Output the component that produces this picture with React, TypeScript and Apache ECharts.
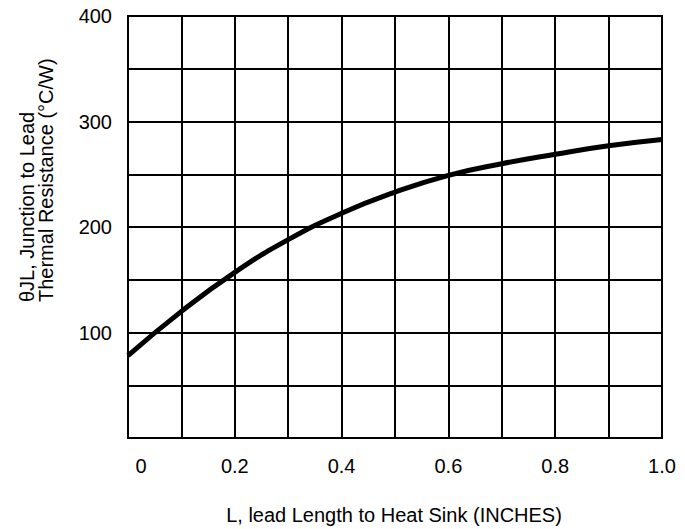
import React, { useEffect, useRef } from "react";
import * as echarts from "echarts";

const leadLength = [0, 0.1, 0.2, 0.3, 0.4, 0.5, 0.6, 0.7, 0.8, 0.9, 1.0];
const resistance = [78, 120, 157, 188, 213, 233, 249, 260, 269, 277, 283];
const xTitle = "L, lead Length to Heat Sink (INCHES)";
const yTitleLines = ["θJL, Junction to Lead", "Thermal Resistance (°C/W)"];

const FONT = "'Liberation Sans', Arial, sans-serif";
const FS = 20;

export default function App() {
  const ref = useRef<HTMLDivElement>(null);
  useEffect(() => {
    if (!ref.current) return;
    const chart = echarts.init(ref.current, undefined, { renderer: "svg" });
    chart.setOption({
      animation: false,
      backgroundColor: "#fff",
      grid: {
        left: 128,
        top: 16,
        right: 23,
        bottom: 91,
        show: true,
        borderColor: "#000",
        borderWidth: 2,
      },
      xAxis: {
        type: "value",
        min: 0,
        max: 1,
        interval: 0.1,
        axisLine: { show: true, lineStyle: { color: "#000", width: 2 } },
        axisTick: { show: false },
        splitLine: { show: true, lineStyle: { color: "#000", width: 2 } },
        axisLabel: {
          color: "#000",
          fontFamily: FONT,
          fontSize: FS,
          margin: 18,
          formatter: (v: number) => {
            const k = Math.round(v * 10);
            if (k % 2 !== 0) return "";
            if (k === 0) return "{z|0}";
            if (k === 10) return "1.0";
            return (k / 10).toFixed(1);
          },
          rich: {
            z: { padding: [0, 0, 0, 26], fontSize: FS, fontFamily: FONT, color: "#000" },
          },
        },
      },
      yAxis: {
        type: "value",
        min: 0,
        max: 400,
        interval: 50,
        axisLine: { show: true, lineStyle: { color: "#000", width: 2 } },
        axisTick: { show: false },
        splitLine: { show: true, lineStyle: { color: "#000", width: 2 } },
        axisLabel: {
          color: "#000",
          fontFamily: FONT,
          fontSize: FS,
          margin: 16,
          formatter: (v: number) => (v > 0 && v % 100 === 0 ? String(v) : ""),
        },
      },
      graphic: [
        {
          type: "text",
          x: 394,
          y: 515,
          style: {
            text: xTitle,
            fill: "#000",
            font: `${FS}px ${FONT}`,
            textAlign: "center",
            textVerticalAlign: "middle",
          },
        },
        {
          type: "text",
          x: 27,
          y: 302,
          rotation: Math.PI / 2,
          style: {
            text: yTitleLines[0],
            fill: "#000",
            font: `${FS}px ${FONT}`,
            textAlign: "left",
            textVerticalAlign: "middle",
          },
        },
        {
          type: "text",
          x: 46,
          y: 302,
          rotation: Math.PI / 2,
          style: {
            text: yTitleLines[1],
            fill: "#000",
            font: `${FS}px ${FONT}`,
            textAlign: "left",
            textVerticalAlign: "middle",
          },
        },
      ],
      series: [
        {
          type: "line",
          data: leadLength.map((x, i) => [x, resistance[i]]),
          smooth: 0.5,
          showSymbol: false,
          lineStyle: { color: "#000", width: 5 },
        },
      ],
    });
    return () => chart.dispose();
  }, []);
  return <div ref={ref} style={{ width: 685, height: 529, position: "fixed", left: 0, top: 0 }} />;
}
